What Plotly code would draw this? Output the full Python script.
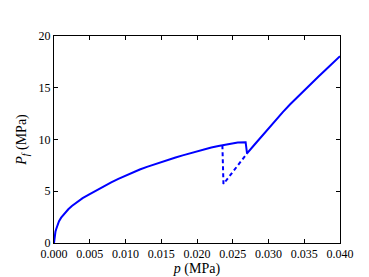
import plotly.graph_objects as go

# solid (stable) branch, MPa
p_solid = [0.0, 0.00005, 0.0001, 0.0002, 0.0003, 0.0005, 0.0007, 0.001, 0.0015,
           0.002, 0.0025, 0.003, 0.0035, 0.004, 0.005, 0.006, 0.007, 0.008, 0.009, 0.010,
           0.011, 0.012, 0.013, 0.014, 0.015, 0.016, 0.017, 0.018, 0.019,
           0.020, 0.021, 0.022, 0.023, 0.0236, 0.024, 0.025, 0.0257, 0.0268,
           0.0270, 0.028, 0.029, 0.030, 0.031, 0.032, 0.033, 0.034, 0.035,
           0.036, 0.037, 0.038, 0.039, 0.040]
pf_solid = [0.0, 0.5, 0.75, 1.08, 1.33, 1.78, 2.1, 2.45, 2.9,
            3.26, 3.57, 3.85, 4.1, 4.33, 4.72, 5.12, 5.5, 5.86, 6.2, 6.52,
            6.82, 7.1, 7.36, 7.6, 7.83, 8.05, 8.26, 8.47, 8.67,
            8.87, 9.05, 9.22, 9.37, 9.45, 9.52, 9.64, 9.72, 9.74,
            8.65, 9.47, 10.29, 11.10, 11.89, 12.65, 13.38, 14.08, 14.76,
            15.42, 16.08, 16.74, 17.40, 18.05]

# dashed (unstable) branch
p_dash = [0.02355, 0.0237, 0.0270]
pf_dash = [9.45, 5.7, 8.65]

blue = '#0000ff'
fig = go.Figure()
fig.add_trace(go.Scatter(x=p_solid, y=pf_solid, mode='lines',
                         line={'color': blue, 'width': 2}))
fig.add_trace(go.Scatter(x=p_dash, y=pf_dash, mode='lines',
                         line={'color': blue, 'width': 2, 'dash': '4px,3px'}))

axis_style = {'showline': True, 'linecolor': 'black', 'linewidth': 1, 'mirror': 'ticks',
              'ticks': 'inside', 'ticklen': 4, 'tickcolor': 'black',
              'showgrid': False, 'zeroline': False}

fig.update_xaxes(axis_style, range=[0, 0.04], tick0=0, dtick=0.005, tickformat='.3f',
                 title={'text': '<i>p</i> (MPa)', 'standoff': 2})
fig.update_yaxes(axis_style, range=[0, 20], tick0=0, dtick=5,
                 title={'text': '<i>P<sub>f</sub></i> (MPa)', 'standoff': 8})

fig.update_layout(
    width=369,
    height=277,
    margin={'l': 46, 'r': 37, 't': 28, 'b': 29},
    plot_bgcolor='white',
    paper_bgcolor='white',
    font={'family': 'Liberation Serif', 'size': 12, 'color': 'black'},
    showlegend=False,
)

fig.write_html("out.html")
